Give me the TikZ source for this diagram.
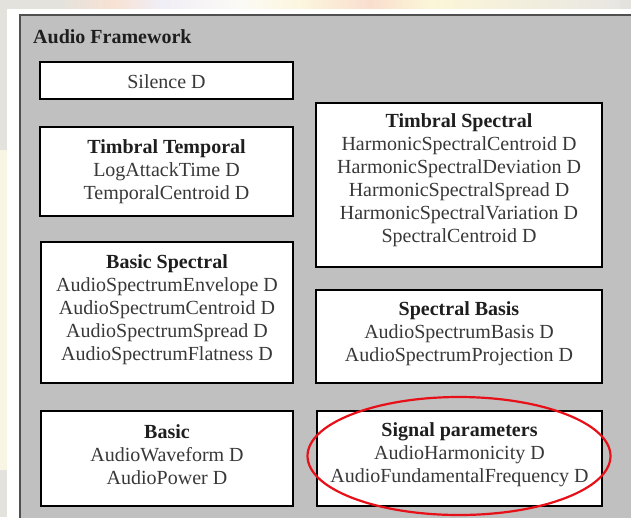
\documentclass[tikz,border=0pt]{standalone}
\usepackage{fontspec}
\setmainfont{Liberation Serif}
\usetikzlibrary{shapes.geometric}
\definecolor{panelgray}{HTML}{C0C0C0}
\definecolor{paneledge}{HTML}{505050}
\definecolor{bodytext}{HTML}{383838}
\definecolor{headtext}{HTML}{1E1E1E}
\definecolor{markred}{HTML}{E81018}
\tikzset{
  descbox/.style={draw=black, line width=1.7pt, fill=white, rectangle, inner sep=0pt},
  desctext/.style={align=center, text=bodytext, inner sep=0pt,
    font=\fontsize{20}{23}\selectfont},
  head/.style={font=\bfseries, text=headtext}
}
\begin{document}
\begin{tikzpicture}[x=1pt, y=-1pt]
\useasboundingbox (0,0) rectangle (631,517);
\clip (0,0) rectangle (631,517);
% slide backdrop around the frame
\fill[color={rgb,255:red,228;green,226;blue,221}] (0,0) rectangle (631,517);
\fill[color={rgb,255:red,249;green,245;blue,228}] (0,150) rectangle (7,470);
\fill[left color={rgb,255:red,228;green,226;blue,221}, right color={rgb,255:red,248;green,226;blue,212}] (60,0) rectangle (115,9);
\fill[left color={rgb,255:red,248;green,226;blue,212}, right color={rgb,255:red,240;green,238;blue,246}] (115,0) rectangle (160,9);
\fill[left color={rgb,255:red,240;green,238;blue,246}, right color={rgb,255:red,252;green,250;blue,246}] (160,0) rectangle (240,9);
\fill[left color={rgb,255:red,252;green,250;blue,246}, right color={rgb,255:red,252;green,246;blue,222}] (240,0) rectangle (300,9);
\fill[left color={rgb,255:red,252;green,246;blue,222}, right color={rgb,255:red,249;green,222;blue,206}] (300,0) rectangle (370,9);
\fill[left color={rgb,255:red,249;green,222;blue,206}, right color={rgb,255:red,252;green,246;blue,216}] (370,0) rectangle (430,9);
\fill[left color={rgb,255:red,252;green,246;blue,216}, right color={rgb,255:red,232;green,230;blue,226}] (430,0) rectangle (620,9);
% white frame and grey panel
\fill[white] (7,9) rectangle (640,530);
\draw[fill=panelgray, draw=paneledge, line width=2.2pt] (20,15) rectangle (650,540);
\node[anchor=west, inner sep=0pt, text=headtext,
  font=\fontsize{20}{23}\selectfont\bfseries] (title) at (33,37) {Audio Framework};

% descriptor groups, left column
\node[descbox, minimum width=253pt, minimum height=37pt] (silence) at (166.5,80.5) {};
\node[desctext] (silenceT) at (166.5,82) {Silence D};

\node[descbox, minimum width=253pt, minimum height=89pt] (tt) at (166.5,171.5) {};
\node[desctext] (ttT) at (166.5,172) {{\bfseries\color{headtext}Timbral Temporal}\\LogAttackTime D\\TemporalCentroid D};

\node[descbox, minimum width=252pt, minimum height=141pt] (bs) at (167,312.5) {};
\node[desctext] (bsT) at (167,310) {{\bfseries\color{headtext}Basic Spectral}\\AudioSpectrumEnvelope D\\AudioSpectrumCentroid D\\AudioSpectrumSpread D\\AudioSpectrumFlatness D};

\node[descbox, minimum width=252pt, minimum height=95pt] (basic) at (167,458.5) {};
\node[desctext] (basicT) at (167,454.5) {{\bfseries\color{headtext}Basic}\\AudioWaveform D\\AudioPower D};

% descriptor groups, right column
\node[descbox, minimum width=286pt, minimum height=164pt] (ts) at (459,185) {};
\node[desctext] (tsT) at (459,180.5) {{\bfseries\color{headtext}Timbral Spectral}\\HarmonicSpectralCentroid D\\HarmonicSpectralDeviation D\\HarmonicSpectralSpread D\\HarmonicSpectralVariation D\\SpectralCentroid D};

\node[descbox, minimum width=286pt, minimum height=93pt] (sb) at (459,336.5) {};
\node[desctext] (sbT) at (459,334) {{\bfseries\color{headtext}Spectral Basis}\\AudioSpectrumBasis D\\AudioSpectrumProjection D};

\node[descbox, minimum width=285pt, minimum height=95pt] (sp) at (459.5,458.5) {};
\node[desctext] (spT) at (459.5,455) {{\bfseries\color{headtext}Signal parameters}\\AudioHarmonicity D\\AudioFundamentalFrequency D};

% highlight around the signal parameters group
\node[ellipse, draw=markred, line width=2.2pt, inner sep=0pt,
  minimum width=303pt, minimum height=118pt] (hl) at (459,456) {};
\end{tikzpicture}
\end{document}
